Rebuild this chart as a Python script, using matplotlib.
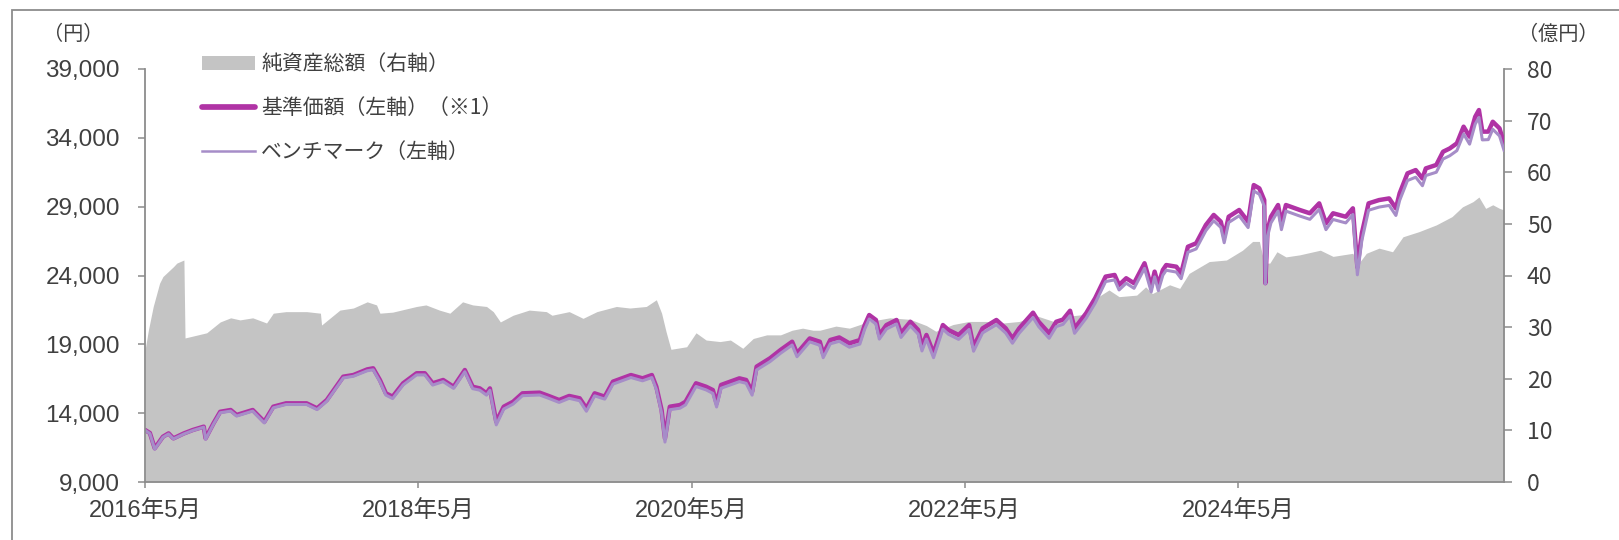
import matplotlib
matplotlib.use("Agg")
import matplotlib.pyplot as plt
import pandas as pd
from matplotlib.lines import Line2D
from matplotlib.patches import Patch, Rectangle
from matplotlib.ticker import FuncFormatter

# 基準価額 / ベンチマーク (円)
nav_dates = [
    "2016-05-31", "2016-06-13", "2016-06-26", "2016-07-18", "2016-08-02", "2016-08-15",
    "2016-09-12", "2016-10-06", "2016-11-04", "2016-11-09", "2016-11-30", "2016-12-18",
    "2017-01-15", "2017-01-31", "2017-03-15", "2017-04-15", "2017-05-09", "2017-06-12",
    "2017-08-06", "2017-09-03", "2017-09-29", "2017-11-12", "2017-12-09", "2018-01-15",
    "2018-01-31", "2018-02-18", "2018-03-06", "2018-03-24", "2018-04-21", "2018-05-27",
    "2018-06-18", "2018-07-09", "2018-08-06", "2018-09-03", "2018-10-03", "2018-10-24",
    "2018-11-12", "2018-11-30", "2018-12-09", "2018-12-26", "2019-01-15", "2019-02-09",
    "2019-03-06", "2019-04-21", "2019-05-15", "2019-06-12", "2019-07-09", "2019-08-06",
    "2019-08-24", "2019-09-15", "2019-10-12", "2019-11-03", "2019-12-21", "2020-01-21",
    "2020-02-15", "2020-02-27", "2020-03-12", "2020-03-21", "2020-04-03", "2020-04-30",
    "2020-05-15", "2020-06-12", "2020-07-09", "2020-07-27", "2020-08-06", "2020-08-18",
    "2020-10-06", "2020-10-24", "2020-11-09", "2020-11-21", "2020-12-27", "2021-01-24",
    "2021-02-24", "2021-03-09", "2021-04-12", "2021-05-09", "2021-05-18", "2021-06-06",
    "2021-06-30", "2021-07-27", "2021-08-24", "2021-09-06", "2021-09-18", "2021-10-06",
    "2021-10-15", "2021-11-03", "2021-11-30", "2021-12-12", "2022-01-06", "2022-01-27",
    "2022-02-06", "2022-02-18", "2022-03-09", "2022-04-03", "2022-04-18", "2022-05-15",
    "2022-06-12", "2022-06-24", "2022-07-18", "2022-08-24", "2022-09-18", "2022-10-06",
    "2022-10-24", "2022-11-30", "2022-12-15", "2023-01-12", "2023-01-31", "2023-02-18",
    "2023-03-09", "2023-03-21", "2023-04-21", "2023-05-15", "2023-06-12", "2023-07-06",
    "2023-07-18", "2023-08-06", "2023-08-27", "2023-09-24", "2023-10-12", "2023-10-21",
    "2023-10-31", "2023-11-12", "2023-11-21", "2023-12-18", "2023-12-31", "2024-01-18",
    "2024-02-09", "2024-03-06", "2024-03-27", "2024-04-15", "2024-04-24", "2024-05-06",
    "2024-06-03", "2024-06-27", "2024-07-12", "2024-07-27", "2024-08-09", "2024-08-12",
    "2024-08-18", "2024-08-27", "2024-09-15", "2024-09-24", "2024-10-06", "2024-11-12",
    "2024-12-09", "2025-01-03", "2025-01-21", "2025-02-09", "2025-03-15", "2025-04-03",
    "2025-04-15", "2025-04-27", "2025-05-15", "2025-06-12", "2025-07-09", "2025-07-27",
    "2025-08-06", "2025-08-27", "2025-09-18", "2025-10-06", "2025-10-15", "2025-11-12",
    "2025-11-30", "2025-12-18", "2026-01-06", "2026-01-24", "2026-02-09", "2026-02-24",
    "2026-03-06", "2026-03-15", "2026-03-31", "2026-04-12", "2026-04-30", "2026-05-12",
]
fund = [
    12780, 12560, 11450, 12290, 12530, 12170,
    12530, 12780, 13020, 12170, 13260, 14100,
    14230, 13870, 14230, 13380, 14470, 14715,
    14715, 14350, 14956, 16650, 16770, 17180,
    17260, 16410, 15440, 15200, 16170, 16900,
    16900, 16170, 16410, 15920, 17135, 15920,
    15800, 15440, 15800, 13380, 14470, 14830,
    15440, 15490, 15250, 14956, 15250, 15080,
    14350, 15440, 15200, 16290, 16770, 16530,
    16770, 15920, 14230, 12170, 14470, 14590,
    14830, 16170, 15920, 15680, 14715, 16050,
    16530, 16410, 15560, 17380, 17990, 18590,
    19190, 18350, 19430, 19190, 18300, 19315,
    19500, 19075, 19310, 20400, 21130, 20770,
    19680, 20400, 20770, 19800, 20640, 20040,
    18830, 19680, 18350, 20400, 20040, 19680,
    20400, 18830, 20160, 20770, 20160, 19430,
    20160, 21300, 20640, 19800, 20640, 20800,
    21440, 20160, 21260, 22350, 23920, 24040,
    23310, 23800, 23440, 24890, 23190, 24280,
    23300, 24400, 24760, 24640, 24160, 26090,
    26340, 27670, 28400, 27910, 26820, 28270,
    28760, 27910, 30570, 30330, 29480, 23440,
    27300, 28270, 29120, 27790, 29120, 28760,
    28520, 29240, 27790, 28520, 28270, 28880,
    24600, 27070, 29240, 29480, 29600, 28880,
    29970, 31420, 31660, 31050, 31780, 32030,
    32990, 33230, 33600, 34810, 34080, 35530,
    36020, 34450, 34450, 35170, 34690, 33600,
]
bench = [
    12760, 12520, 11380, 12250, 12490, 12130,
    12490, 12740, 12980, 12100, 13200, 14030,
    14150, 13790, 14150, 13290, 14390, 14630,
    14630, 14260, 14870, 16560, 16680, 17080,
    17150, 16290, 15310, 15060, 16050, 16780,
    16780, 16040, 16290, 15800, 17010, 15780,
    15670, 15310, 15660, 13150, 14300, 14660,
    15270, 15320, 15080, 14780, 15080, 14900,
    14140, 15260, 15020, 16110, 16590, 16350,
    16590, 15730, 14020, 11900, 14250, 14360,
    14600, 15940, 15690, 15440, 14450, 15810,
    16290, 16170, 15310, 17140, 17750, 18350,
    18950, 18100, 19180, 18930, 18030, 19040,
    19220, 18790, 19020, 20110, 20840, 20480,
    19380, 20110, 20480, 19500, 20340, 19740,
    18520, 19380, 18030, 20100, 19730, 19360,
    20080, 18500, 19830, 20430, 19820, 19080,
    19810, 20950, 20290, 19440, 20290, 20450,
    21080, 19800, 20900, 21990, 23560, 23680,
    22950, 23440, 23070, 24520, 22810, 23900,
    22900, 24020, 24380, 24250, 23770, 25690,
    25930, 27260, 27980, 27490, 26380, 27850,
    28340, 27480, 30140, 29900, 29040, 23400,
    26850, 27820, 28680, 27330, 28680, 28320,
    28080, 28800, 27330, 28070, 27820, 28430,
    24050, 26550, 28740, 28970, 29090, 28360,
    29450, 30900, 31140, 30520, 31260, 31500,
    32460, 32700, 33070, 34280, 33540, 35000,
    35480, 33850, 33870, 34620, 34140, 33100,
]

# 純資産総額 (億円)
asset_dates = [
    "2016-05-31", "2016-06-09", "2016-06-22", "2016-07-09", "2016-07-18", "2016-08-15",
    "2016-08-24", "2016-09-12", "2016-09-15", "2016-11-12", "2016-12-18", "2017-01-15",
    "2017-02-09", "2017-03-15", "2017-04-21", "2017-05-09", "2017-06-12", "2017-08-06",
    "2017-09-12", "2017-09-15", "2017-11-03", "2017-12-09", "2018-01-15", "2018-02-09",
    "2018-02-18", "2018-03-24", "2018-05-27", "2018-06-21", "2018-07-27", "2018-08-24",
    "2018-09-27", "2018-10-24", "2018-11-30", "2018-12-18", "2019-01-06", "2019-02-09",
    "2019-03-24", "2019-05-09", "2019-05-24", "2019-07-09", "2019-08-15", "2019-09-21",
    "2019-11-12", "2019-12-18", "2020-01-31", "2020-02-27", "2020-03-12", "2020-03-24",
    "2020-04-06", "2020-05-18", "2020-06-12", "2020-07-09", "2020-08-15", "2020-09-12",
    "2020-10-15", "2020-11-12", "2020-12-18", "2021-01-24", "2021-02-24", "2021-03-24",
    "2021-04-21", "2021-05-09", "2021-06-21", "2021-07-27", "2021-09-18", "2021-11-12",
    "2022-01-06", "2022-02-18", "2022-03-15", "2022-04-30", "2022-06-12", "2022-07-27",
    "2022-09-12", "2022-10-24", "2022-12-09", "2023-01-24", "2023-03-15", "2023-04-21",
    "2023-05-24", "2023-06-21", "2023-07-18", "2023-09-03", "2023-09-27", "2023-10-15",
    "2023-11-03", "2023-11-30", "2023-12-27", "2024-01-21", "2024-03-15", "2024-04-30",
    "2024-06-12", "2024-07-09", "2024-07-27", "2024-08-09", "2024-08-24", "2024-09-12",
    "2024-10-06", "2024-11-12", "2025-01-06", "2025-02-09", "2025-04-03", "2025-04-15",
    "2025-05-09", "2025-06-12", "2025-07-18", "2025-08-15", "2025-09-27", "2025-11-12",
    "2025-12-24", "2026-01-21", "2026-02-18", "2026-03-06", "2026-03-24", "2026-04-12",
    "2026-04-30", "2026-05-12",
]
assets = [
    25.5, 29.4, 34.0, 38.5, 39.8, 41.7,
    42.4, 43.0, 27.9, 28.9, 31.0, 31.8,
    31.4, 31.8, 30.8, 32.7, 33.0, 33.0,
    32.7, 30.4, 33.3, 33.7, 34.9, 34.3,
    32.7, 32.9, 34.0, 34.3, 33.3, 32.7,
    34.9, 34.3, 34.0, 33.0, 31.0, 32.3,
    33.3, 33.0, 32.3, 33.0, 31.7, 33.0,
    34.0, 33.7, 34.0, 35.3, 32.7, 29.1,
    25.7, 26.2, 28.9, 27.5, 27.2, 27.5,
    25.9, 27.8, 28.5, 28.5, 29.4, 29.8,
    29.4, 29.4, 30.2, 29.8, 31.1, 31.8,
    31.5, 30.3, 29.2, 30.5, 31.1, 31.1,
    30.8, 31.1, 32.2, 31.1, 32.2, 32.5,
    35.9, 37.2, 35.9, 36.2, 37.8, 36.5,
    37.2, 38.2, 37.5, 40.4, 42.7, 43.0,
    44.9, 46.6, 46.6, 42.4, 42.4, 44.6,
    43.6, 44.0, 44.9, 43.7, 44.3, 42.0,
    44.3, 45.3, 44.6, 47.5, 48.5, 49.8,
    51.4, 53.3, 54.3, 55.2, 53.0, 53.7,
    53.0, 52.7,
]

tick_dates = ["2016-05-31", "2018-05-31", "2020-05-31", "2022-05-31", "2024-05-31"]
tick_labels = ["2016年5月", "2018年5月", "2020年5月", "2022年5月", "2024年5月"]
left_ticks = [9000, 14000, 19000, 24000, 29000, 34000, 39000]
right_ticks = [0, 10, 20, 30, 40, 50, 60, 70, 80]
legend_labels = ["純資産総額（右軸）", "基準価額（左軸）（※1）", "ベンチマーク（左軸）"]

GRAY = "#c4c4c4"
FUND = "#b033a5"
BENCH = "#a68dc8"
TEXT = "#404040"
SPINE = "#8c8c8c"
JP = "Noto Sans CJK JP"

plt.rcParams["font.family"] = ["Liberation Sans", JP]

W, H = 1619, 540
fig = plt.figure(figsize=(W / 100, H / 100), dpi=100)
ax = fig.add_axes([145 / W, 1 - 482 / H, (1504 - 145) / W, (482 - 69) / H])
ax2 = ax.twinx()
ax.set_zorder(ax2.get_zorder() + 1)
ax.patch.set_visible(False)

ax2.fill_between(pd.to_datetime(asset_dates), assets, 0, color=GRAY, lw=0)
d = pd.to_datetime(nav_dates)
ax.plot(d, fund, color=FUND, lw=3.2, solid_joinstyle="round", solid_capstyle="round")
ax.plot(d, bench, color=BENCH, lw=2.2, solid_joinstyle="round")

ax.set_xlim(pd.Timestamp("2016-05-31"), pd.Timestamp("2026-05-12"))
ax.set_ylim(9000, 39000)
ax2.set_ylim(0, 80)
ax.set_yticks(left_ticks)
ax.yaxis.set_major_formatter(FuncFormatter(lambda v, p: f"{int(v):,}"))
ax2.set_yticks(right_ticks, labels=[str(v) for v in right_ticks], fontfamily=JP)
ax.set_xticks(pd.to_datetime(tick_dates))
ax.set_xticklabels(tick_labels)

for a in (ax, ax2):
    for s in a.spines.values():
        s.set_color(SPINE)
        s.set_linewidth(1.3)
    a.spines["top"].set_visible(False)
ax.spines["right"].set_visible(False)
ax2.spines["left"].set_visible(False)
ax2.spines["bottom"].set_visible(False)

ax.tick_params(axis="y", direction="out", length=5, width=1.1, color=SPINE,
               pad=13, labelsize=17.5, labelcolor=TEXT)
ax.tick_params(axis="x", direction="out", length=4.5, width=1.1, color=SPINE,
               pad=9, labelsize=17, labelcolor=TEXT)
ax2.tick_params(axis="y", direction="out", length=5.5, width=1.1, color=SPINE,
                pad=11, labelsize=16.5, labelcolor=TEXT)

handles = [
    Patch(facecolor=GRAY, edgecolor="none"),
    Line2D([], [], color=FUND, lw=4.1, solid_capstyle="round"),
    Line2D([], [], color=BENCH, lw=1.8),
]
leg = ax.legend(handles, legend_labels, loc="upper left",
                bbox_to_anchor=(202 / W, 1 - 53 / H), bbox_transform=fig.transFigure,
                frameon=False, prop={"family": JP, "size": 15},
                handlelength=2.55, handleheight=0.65, handletextpad=0.3,
                labelspacing=1.05, borderpad=0, borderaxespad=0)
for t in leg.get_texts():
    t.set_color(TEXT)

fig.text(73 / W, 1 - 35 / H, "（円）", ha="center", va="center",
         fontsize=14.5, family=JP, color=TEXT)
fig.text(1558 / W, 1 - 34 / H, "（億円）", ha="center", va="center",
         fontsize=14.5, family=JP, color=TEXT)

fig.add_artist(Rectangle((12 / W, -0.5), 2, 1.5 - 10 / H, transform=fig.transFigure,
                         fill=False, edgecolor=SPINE, lw=1.3, clip_on=False))

fig.savefig("out.png", dpi=100)
